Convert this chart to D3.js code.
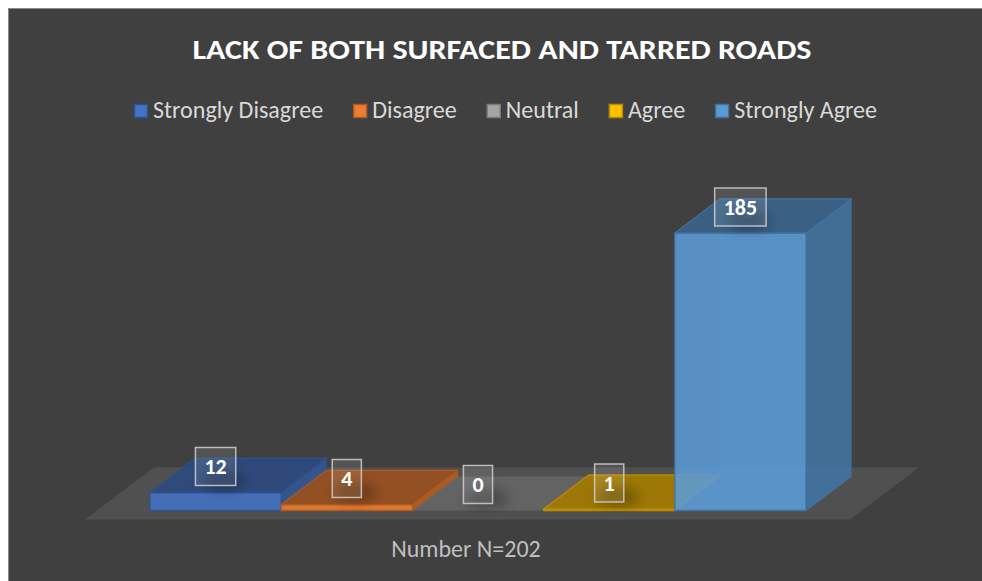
<!DOCTYPE html>
<html>
<head>
<meta charset="utf-8">
<script src="https://cdn.jsdelivr.net/npm/d3@7"></script>
<style>
  html, body { margin: 0; padding: 0; background: #ffffff; }
  svg { display: block; }
</style>
</head>
<body>
<svg id="chart" width="982" height="581"></svg>
<script>
// ---- data ----
const categories = ["Strongly Disagree", "Disagree", "Neutral", "Agree", "Strongly Agree"];
const values = [12, 4, 0, 1, 185];
const seriesColors = ["#4472C4", "#ED7D31", "#A5A5A5", "#FFC000", "#5B9BD5"];
const edgeColors = ["#2F528F", "#AE5A21", "#7C7C7C", "#BC8C00", "#41719C"];
const titleText = "LACK OF BOTH SURFACED AND TARRED ROADS";
const axisTitle = "Number N=202";
const yMax = 200;

// ---- layout ----
const W = 982, H = 581;
const FONT = "Carlito, 'Open Sans', sans-serif";
const svg = d3.select("#chart");

svg.append("rect").attr("x", 8.5).attr("y", 8.5).attr("width", W).attr("height", H)
  .attr("fill", "#404040").attr("stroke", "#8a8a8a").attr("stroke-width", 1);

const x = d3.scaleBand().domain(categories).range([150, 806]).padding(0);
const y = d3.scaleLinear().domain([0, yMax]).range([510.5, 210.5]);
const DX = 45, DY = -34;           // depth projection
const k = DX / -DY;
const proj = (u, h, d) => [u + d * k, y(h) - d];   // d = depth in px (vertical units)

// floor
const fu0 = x.range()[0] - 53, fu1 = x.range()[1] + 56, fd0 = -9, fd1 = -DY + 9;
const floorPts = [proj(fu0, 0, fd0), proj(fu1, 0, fd0), proj(fu1, 0, fd1), proj(fu0, 0, fd1)];
svg.append("polygon").attr("points", floorPts.map(p => p.join(",")).join(" "))
  .attr("fill", "#505050");

// shadow filter
const defs = svg.append("defs");
defs.append("filter").attr("id", "blur").attr("x", "-50%").attr("y", "-50%").attr("width", "200%").attr("height", "200%")
  .append("feGaussianBlur").attr("stdDeviation", 6);

// bars
const bars = svg.append("g");
categories.forEach((c, i) => {
  const v = values[i];
  const x0 = x(c), x1 = x(c) + x.bandwidth();
  const d = -DY;
  const col = d3.color(seriesColors[i]);
  const g = bars.append("g");
  const poly = (pts, fill, op) => g.append("polygon")
    .attr("points", pts.map(p => p.join(",")).join(" "))
    .attr("fill", fill).attr("fill-opacity", op)
    .attr("stroke", edgeColors[i]).attr("stroke-width", 1.3).attr("stroke-linejoin", "round")
    .attr("stroke-opacity", 0.9);
  if (v > 0) {
    poly([proj(x0, 0, d), proj(x1, 0, d), proj(x1, v, d), proj(x0, v, d)], col.darker(0.8), 0.25)
      .attr("stroke-opacity", 0.25);
    poly([proj(x0, 0, 0), proj(x1, 0, 0), proj(x1, 0, d), proj(x0, 0, d)], col.darker(0.8), 0.25)
      .attr("stroke-opacity", 0.25);
    poly([proj(x1, 0, 0), proj(x1, v, 0), proj(x1, v, d), proj(x1, 0, d)], col.darker(0.85), 0.9);
    poly([proj(x0, 0, 0), proj(x1, 0, 0), proj(x1, v, 0), proj(x0, v, 0)], col, 0.88);
    poly([proj(x0, v, 0), proj(x1, v, 0), proj(x1, v, d), proj(x0, v, d)], col.darker(1.25), 0.9);
  } else {
    g.append("polygon")
      .attr("points", [proj(x0, v, 0), proj(x1, v, 0), proj(x1, v, d), proj(x0, v, d)].map(p => p.join(",")).join(" "))
      .attr("fill", col.darker(1.25)).attr("fill-opacity", 0.75);
  }
});

// data labels
const labels = svg.append("g").attr("font-family", FONT).attr("font-weight", "bold").attr("font-size", 22);
categories.forEach((c, i) => {
  const v = values[i];
  const cx = x(c) + x.bandwidth() / 2;
  const cy = y(v) + DY + 8;
  const lg = labels.append("g");
  lg.append("ellipse").attr("cx", cx + 8).attr("cy", cy + 14).attr("rx", 22).attr("ry", 10)
    .attr("fill", "#000").attr("opacity", 0.25).attr("filter", "url(#blur)");
  const rect = lg.append("rect");
  const t = lg.append("text").attr("x", cx).attr("y", cy).attr("text-anchor", "middle")
    .attr("dominant-baseline", "central").attr("fill", "#ffffff").text(v);
  const tw = t.node().getComputedTextLength();
  const bw = tw + 18, bh = 38;
  rect.attr("x", cx - bw / 2).attr("y", cy - bh / 2).attr("width", bw).attr("height", bh)
    .attr("fill", "#ffffff").attr("fill-opacity", 0.1)
    .attr("stroke", "#d0d0d0").attr("stroke-opacity", 0.85).attr("stroke-width", 1.5);
});

// title
svg.append("text").attr("x", 502).attr("y", 58.5).attr("text-anchor", "middle")
  .attr("font-family", FONT).attr("font-weight", "bold").attr("font-size", 28)
  .attr("textLength", 619).attr("lengthAdjust", "spacingAndGlyphs")
  .attr("fill", "#ffffff").text(titleText);

// legend
const legend = svg.append("g").attr("font-family", FONT).attr("font-size", 24).attr("fill", "#d9d9d9");
const sq = 14, gapSq = 5, gapItem = 30, legTarget = 743, legCenter = 505.5;
const items = categories.map((c, i) => {
  const t = legend.append("text").attr("y", 118).text(c);
  return { t, w: t.node().getComputedTextLength(), i };
});
const fixed = items.length * (sq + gapSq) + (items.length - 1) * gapItem;
const totalW = d3.sum(items, d => d.w);
const kk = (legTarget - fixed) / totalW;
let cx = legCenter - (fixed + totalW * kk) / 2;
items.forEach(d => {
  legend.append("rect").attr("x", cx + 0.5).attr("y", 104.5).attr("width", sq - 1).attr("height", sq - 1)
    .attr("fill", seriesColors[d.i]).attr("stroke", edgeColors[d.i]).attr("stroke-width", 1.5);
  d.t.attr("x", cx + sq + gapSq)
    .attr("textLength", d.w * kk).attr("lengthAdjust", "spacingAndGlyphs");
  cx += sq + gapSq + d.w * kk + gapItem;
});

// axis title
svg.append("text").attr("x", 466).attr("y", 557).attr("text-anchor", "middle")
  .attr("font-family", FONT).attr("font-size", 24).attr("fill", "#bfbfbf").text(axisTitle);
</script>
</body>
</html>
